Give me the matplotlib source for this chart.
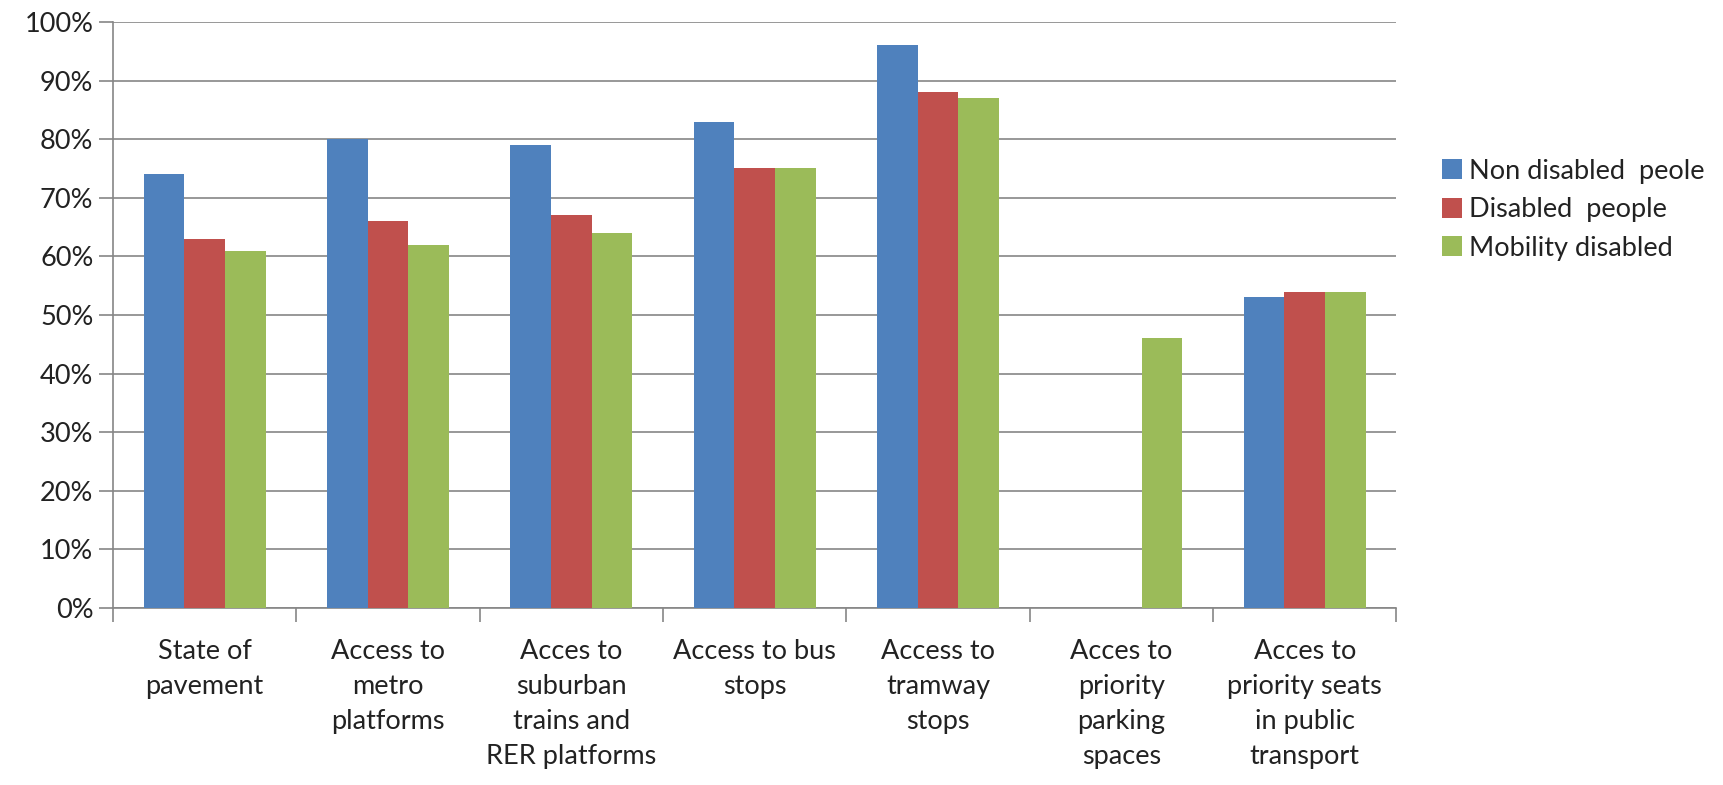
import numpy as np
import matplotlib
matplotlib.use("Agg")
import matplotlib.pyplot as plt
from matplotlib.ticker import FuncFormatter, MultipleLocator

categories = ["State of\npavement", "Access to\nmetro\nplatforms",
              "Acces to\nsuburban\ntrains and\nRER platforms", "Access to bus\nstops",
              "Access to\ntramway\nstops", "Acces to\npriority\nparking\nspaces",
              "Acces to\npriority seats\nin public\ntransport"]
series_names = ["Non disabled  peole", "Disabled  people", "Mobility disabled"]
non_disabled = [74, 80, 79, 83, 96, np.nan, 53]
disabled = [63, 66, 67, 75, 88, np.nan, 54]
mobility = [61, 62, 64, 75, 87, 46, 54]
colors = ["#4F81BD", "#C0504D", "#9BBB59"]

plt.rcParams['font.family'] = ['Lato', 'DejaVu Sans']
fig = plt.figure(figsize=(17.24, 7.85), dpi=100)
ax = fig.add_axes([0.0655, 0.2255, 0.7445, 0.7465])

x = np.arange(len(categories))
w = 0.222
for i, (vals, c, n) in enumerate(zip([non_disabled, disabled, mobility], colors, series_names)):
    ax.bar(x + (i - 1) * w, vals, width=w, color=c, label=n, zorder=3)

ax.set_xlim(-0.5, len(categories) - 0.5)
ax.set_ylim(0, 100)
ax.yaxis.set_major_locator(MultipleLocator(10))
ax.yaxis.set_major_formatter(FuncFormatter(lambda v, p: f"{int(v)}%"))
ax.grid(axis='y', color='#868686', linewidth=1.2, zorder=0)
grey = '#868686'
for s in ['top', 'right']:
    ax.spines[s].set_visible(False)
for s in ['left', 'bottom']:
    ax.spines[s].set_color(grey)
    ax.spines[s].set_linewidth(1.2)
ax.tick_params(axis='y', length=10, color=grey, width=1.2, labelsize=19.5, pad=4, labelcolor='#222222')
ax.set_xticks(np.arange(-0.5, len(categories) + 0.5, 1.0))
ax.set_xticklabels([])
ax.tick_params(axis='x', length=10, color=grey, width=1.2)
ax.set_xticks(x, minor=True)
ax.set_xticklabels(categories, minor=True, fontsize=19.5, linespacing=1.5, color='#222222', va='top')
ax.tick_params(axis='x', which='minor', length=0, pad=22)

leg = fig.legend(loc='center left', bbox_to_anchor=(0.822, 0.733), frameon=False,
                 fontsize=19.5, handlelength=0.75, handleheight=0.75, handletextpad=0.25,
                 labelspacing=0.5)
for t in leg.get_texts():
    t.set_color('#222222')

fig.savefig("out.png", dpi=100)
